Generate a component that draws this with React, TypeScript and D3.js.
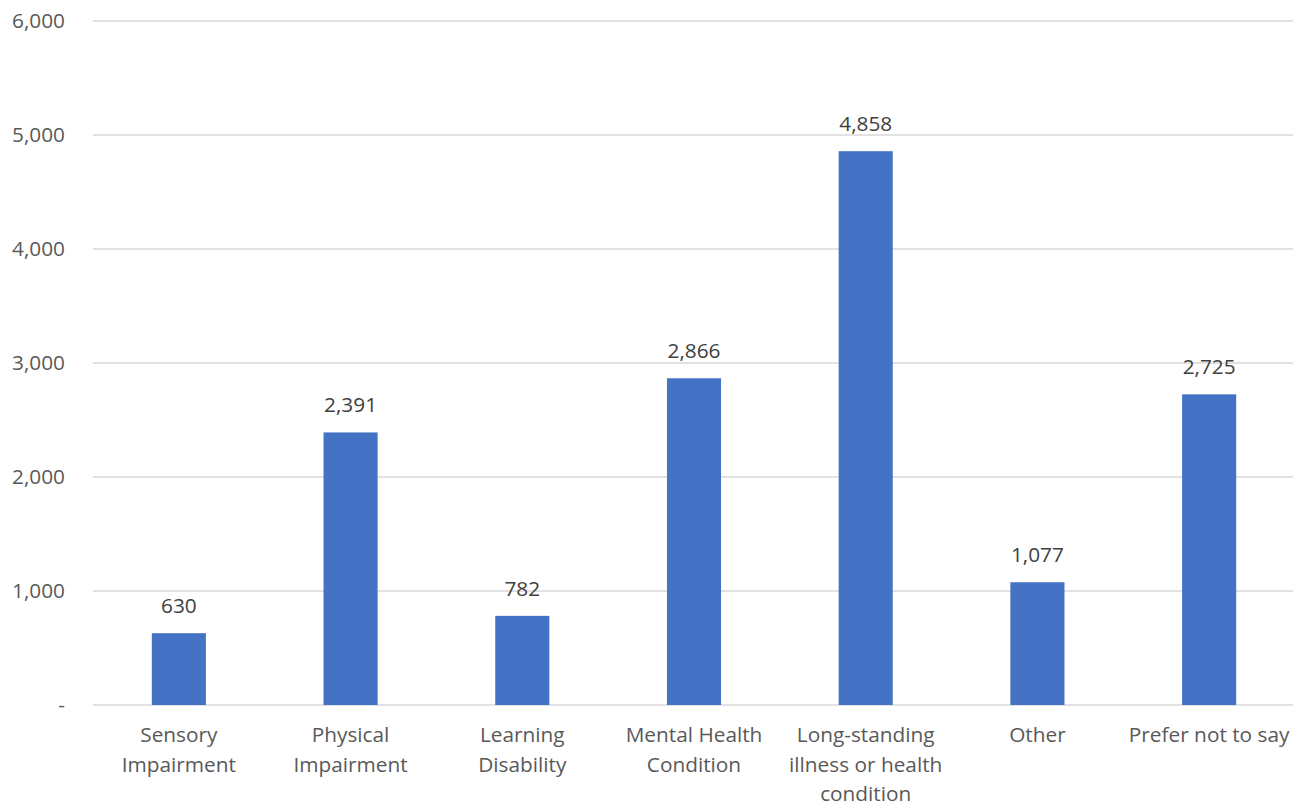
import React from "react";
import * as d3 from "d3";

const categories: string[][] = [
  ["Sensory", "Impairment"],
  ["Physical", "Impairment"],
  ["Learning", "Disability"],
  ["Mental Health", "Condition"],
  ["Long-standing", "illness or health", "condition"],
  ["Other"],
  ["Prefer not to say"],
];
const values: number[] = [630, 2391, 782, 2866, 4858, 1077, 2725];
const yTicks: number[] = [0, 1000, 2000, 3000, 4000, 5000, 6000];

const W = 1293;
const H = 805;
const left = 93;
const right = 1295;
const top = 21;
const bottom = 705;
const FONT = "'Open Sans', 'Noto Sans', sans-serif";
const FS = 20.8;

export default function App() {
  const keys = categories.map((c, i) => String(i));
  const x = d3.scaleBand<string>().domain(keys).range([left, right]).paddingInner(0.685).paddingOuter(0.3425);
  const y = d3.scaleLinear().domain([0, 6000]).range([bottom, top]);
  const fmt = d3.format(",");
  const bw = x.bandwidth();
  return (
    <svg width={W} height={H} style={{ position: "absolute", left: 0, top: 0, background: "#fff" }} fontFamily={FONT}>
      {yTicks.map((t) => (
        <g key={t}>
          <line x1={left} x2={right} y1={y(t)} y2={y(t)} stroke="#d9d9d9" strokeWidth={1.3} />
          <text x={65} y={y(t)} dy="0.35em" textAnchor="end" fontSize={FS} fill="#595959">
            {t === 0 ? "-" : fmt(t)}
          </text>
        </g>
      ))}
      {values.map((v, i) => {
        const cx = (x(String(i)) as number) + bw / 2;
        return (
          <g key={i}>
            <rect x={x(String(i))} y={y(v)} width={bw} height={y(0) - y(v)} fill="#4472C4" />
            <text x={cx} y={y(v) - 20} textAnchor="middle" fontSize={FS} fill="#404040">
              {fmt(v)}
            </text>
            {categories[i].map((line, j) => (
              <text key={j} x={cx} y={742 + j * 29.5} textAnchor="middle" fontSize={FS} fill="#595959">
                {line}
              </text>
            ))}
          </g>
        );
      })}
    </svg>
  );
}
